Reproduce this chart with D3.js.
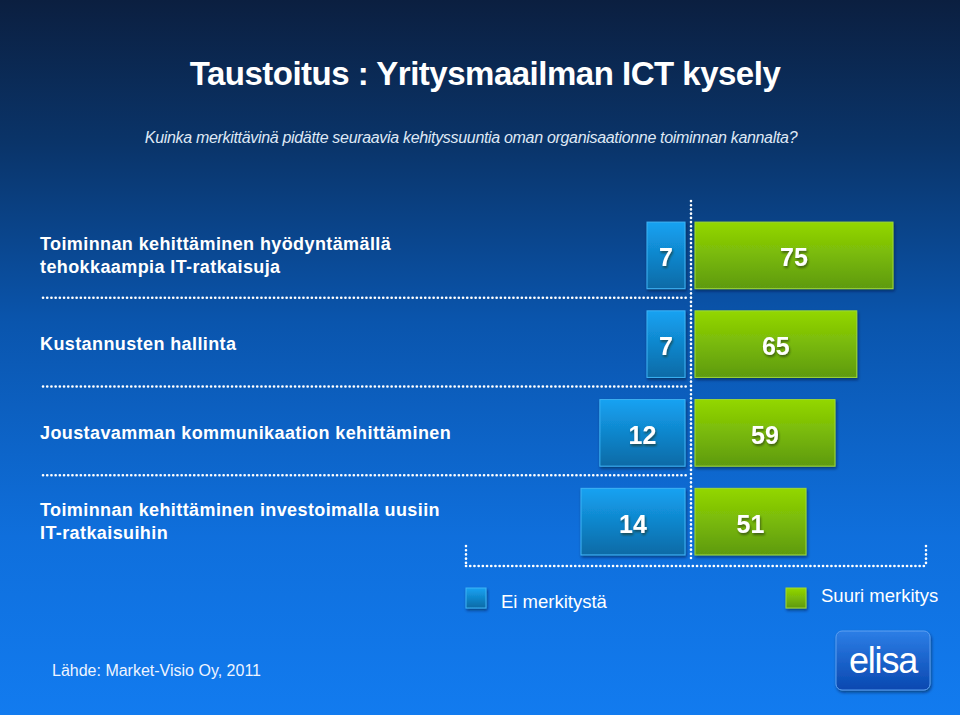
<!DOCTYPE html>
<html><head><meta charset="utf-8">
<script src="https://cdn.jsdelivr.net/npm/d3@7"></script>
<style>
html,body{margin:0;padding:0;background:#0b2a55;}
svg{display:block;font-family:"Liberation Sans",Arial,sans-serif;}
</style></head>
<body>
<svg id="c" width="960" height="715"></svg>
<script>
const categories = [
  "Toiminnan kehittäminen hyödyntämällä|tehokkaampia IT-ratkaisuja",
  "Kustannusten hallinta",
  "Joustavamman kommunikaation kehittäminen",
  "Toiminnan kehittäminen investoimalla uusiin|IT-ratkaisuihin"
];
const eiMerkitysta = [7, 7, 12, 14];
const suuriMerkitys = [75, 65, 59, 51];
const seriesNames = ["Ei merkitystä", "Suuri merkitys"];
const titleText = "Taustoitus : Yritysmaailman ICT kysely";
const subtitleText = "Kuinka merkittävinä pidätte seuraavia kehityssuuntia oman organisaationne toiminnan kannalta?";
const sourceText = "Lähde: Market-Visio Oy, 2011";

const svg = d3.select("#c");
const W = 960, H = 715;
const defs = svg.append("defs");

const bg = defs.append("linearGradient").attr("id","bg").attr("x1",0).attr("y1",0).attr("x2",0).attr("y2",1);
bg.append("stop").attr("offset","0%").attr("stop-color","#0b1f40");
bg.append("stop").attr("offset","20%").attr("stop-color","#0a3469");
bg.append("stop").attr("offset","45%").attr("stop-color","#0a55ad");
bg.append("stop").attr("offset","75%").attr("stop-color","#0f6fdc");
bg.append("stop").attr("offset","100%").attr("stop-color","#127bef");
svg.append("rect").attr("width",W).attr("height",H).attr("fill","url(#bg)");

const gb = defs.append("linearGradient").attr("id","gBlue").attr("x1",0).attr("y1",0).attr("x2",0).attr("y2",1);
gb.append("stop").attr("offset","0%").attr("stop-color","#15a2f2");
gb.append("stop").attr("offset","100%").attr("stop-color","#0b6aa6");
const gg = defs.append("linearGradient").attr("id","gGreen").attr("x1",0).attr("y1",0).attr("x2",0).attr("y2",1);
gg.append("stop").attr("offset","0%").attr("stop-color","#93d700");
gg.append("stop").attr("offset","100%").attr("stop-color","#5e9a12");
const gl = defs.append("linearGradient").attr("id","gLogo").attr("x1",0).attr("y1",0).attr("x2",0).attr("y2",1);
gl.append("stop").attr("offset","0%").attr("stop-color","#2c7ee6");
gl.append("stop").attr("offset","100%").attr("stop-color","#0a48b0");

const sh = defs.append("filter").attr("id","sh").attr("x","-20%").attr("y","-20%").attr("width","140%").attr("height","150%");
sh.append("feDropShadow").attr("dx",1).attr("dy",2).attr("stdDeviation",1.5).attr("flood-color","#001530").attr("flood-opacity",0.55);
const tsh = defs.append("filter").attr("id","tsh").attr("x","-20%").attr("y","-20%").attr("width","140%").attr("height","160%");
tsh.append("feDropShadow").attr("dx",1).attr("dy",2).attr("stdDeviation",1).attr("flood-color","#1a2a10").attr("flood-opacity",0.6);

// Title
svg.append("text").attr("x",485).attr("y",85).attr("text-anchor","middle")
  .attr("fill","#fff").attr("font-weight","bold").attr("font-size",33).attr("letter-spacing","-0.5")
  .text(titleText);
svg.append("text").attr("x",471).attr("y",143).attr("text-anchor","middle")
  .attr("fill","#dfe8f5").attr("font-style","italic").attr("font-size",16).attr("letter-spacing","-0.32")
  .text(subtitleText);

// Scales
const y = d3.scaleBand().domain(categories).range([211, 566]).paddingInner(0.25).paddingOuter(0.125);
const x0 = 691;
const xG = d3.scaleLinear().domain([51, 75]).range([x0 + 4 + 111, x0 + 4 + 198]);
const xB = d3.scaleLinear().domain([7, 14]).range([x0 - 6 - 38, x0 - 6 - 104]);

const dot = {stroke:"#ffffff", "stroke-width":2.6, "stroke-linecap":"round", "stroke-dasharray":"0.1 4.1"};
function dline(x1,y1,x2,y2){
  const l = svg.append("line").attr("x1",x1).attr("y1",y1).attr("x2",x2).attr("y2",y2);
  Object.entries(dot).forEach(([k,v])=>l.attr(k,v));
  return l;
}

categories.slice(0,-1).forEach(c=>{
  const yy = y(c) + y.bandwidth() + y.step()*y.paddingInner()/2 - 2;
  dline(43, yy, 687, yy);
});
dline(x0, 201, x0, 558);
dline(466, 546, 466, 566);
dline(466, 566, 926, 566);
dline(926, 546, 926, 566);

categories.forEach(c=>{
  const lines = c.split("|");
  const cy = y(c) + y.bandwidth()/2;
  const t = svg.append("text").attr("x",40).attr("fill","#fff").attr("font-size",18)
    .attr("font-weight","bold").attr("letter-spacing","0.4");
  const lh = 23;
  const top = cy + 6 - (lines.length-1)*lh/2;
  lines.forEach((ln,i)=>t.append("tspan").attr("x",40).attr("y",top + i*lh).text(ln));
});

const rows = categories.map((c,i)=>({c, b:eiMerkitysta[i], g:suuriMerkitys[i]}));
const bars = svg.append("g");
bars.selectAll(".bb").data(rows).join("rect")
  .attr("x",d=>xB(d.b)).attr("y",d=>y(d.c)).attr("width",d=>(x0-6)-xB(d.b)).attr("height",y.bandwidth())
  .attr("fill","url(#gBlue)").attr("stroke","#3fb4f5").attr("stroke-width",1).attr("filter","url(#sh)");
bars.selectAll(".gb").data(rows).join("rect")
  .attr("x",x0+4).attr("y",d=>y(d.c)).attr("width",d=>xG(d.g)-(x0+4)).attr("height",y.bandwidth())
  .attr("fill","url(#gGreen)").attr("stroke","#9fd934").attr("stroke-width",1).attr("filter","url(#sh)");

const lab = svg.append("g").attr("fill","#fff").attr("font-weight","bold").attr("font-size",25)
  .attr("text-anchor","middle").attr("filter","url(#tsh)");
lab.selectAll(".bl").data(rows).join("text")
  .attr("x",d=>(xB(d.b)+x0-6)/2).attr("y",d=>y(d.c)+y.bandwidth()/2+11).text(d=>d.b);
lab.selectAll(".gl").data(rows).join("text")
  .attr("x",d=>(x0+4+xG(d.g))/2).attr("y",d=>y(d.c)+y.bandwidth()/2+11).text(d=>d.g);

const leg = [
  {name:seriesNames[0], fill:"url(#gBlue)", stroke:"#3fb4f5", x:466, ty:608},
  {name:seriesNames[1], fill:"url(#gGreen)", stroke:"#9fd934", x:786, ty:602}
];
leg.forEach(l=>{
  svg.append("rect").attr("x",l.x).attr("y",588).attr("width",20).attr("height",20)
    .attr("fill",l.fill).attr("stroke",l.stroke).attr("filter","url(#sh)");
  svg.append("text").attr("x",l.x+35).attr("y",l.ty).attr("fill","#fff").attr("font-size",18.5).text(l.name);
});

svg.append("text").attr("x",52).attr("y",676).attr("fill","#eef4ff").attr("font-size",16).text(sourceText);

svg.append("rect").attr("x",836).attr("y",631).attr("width",94).attr("height",59).attr("rx",6)
  .attr("fill","url(#gLogo)").attr("stroke","#5d9ff0").attr("stroke-width",1).attr("filter","url(#sh)");
svg.append("text").attr("x",883).attr("y",673).attr("text-anchor","middle").attr("fill","#fff")
  .attr("font-size",36).attr("letter-spacing","-1.2").text("elisa");
</script>
</body></html>
